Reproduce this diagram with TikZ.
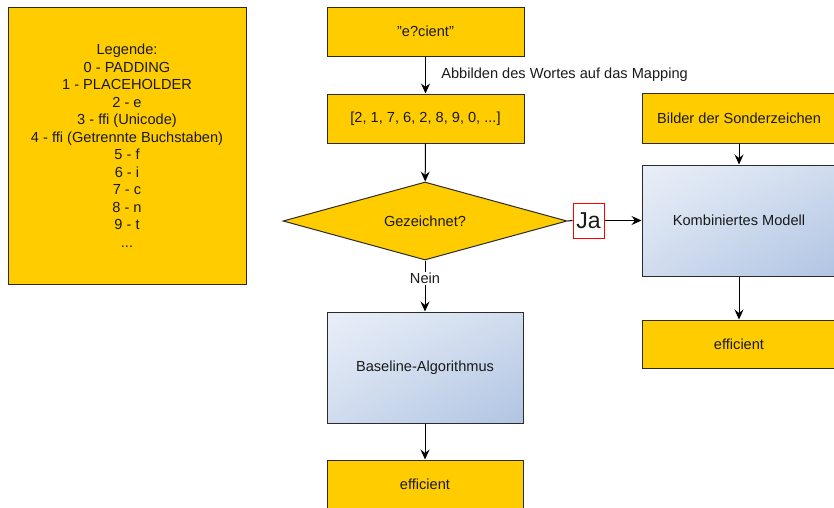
\documentclass[tikz,border=0pt]{standalone}
\usepackage{fontspec}
\setmainfont{Liberation Sans}
\usetikzlibrary{shapes.geometric,arrows.meta,shadings}
\definecolor{yel}{HTML}{FFCC00}
\definecolor{bord}{HTML}{2B2B2B}
\definecolor{txt}{HTML}{1A1A1A}
\definecolor{gtl}{HTML}{E9EFF8}
\definecolor{gmid}{HTML}{D0DCEE}
\definecolor{gbr}{HTML}{B0C4E3}
\begin{document}
\begin{tikzpicture}[x=1pt,y=-1pt,
  every node/.style={font=\fontsize{14.6}{17.5}\selectfont, text=txt},
  ybox/.style={draw=bord, line width=1pt, fill=yel, inner sep=0pt},
  gbox/.style={draw=bord, line width=1pt, inner sep=0pt, upper left=gtl, upper right=gmid, lower left=gmid, lower right=gbr},
  conn/.style={draw=black, line width=1pt, -{Stealth[length=10pt,width=9pt,inset=3.5pt]}},
  plain/.style={draw=black, line width=1pt}]
\useasboundingbox (0,0) rectangle (834,507);
\node[ybox, minimum width=238pt, minimum height=277pt, align=center] (leg) at (127,145.5)
  {Legende:\\0 - PADDING\\1 - PLACEHOLDER\\2 - e\\3 - ffi (Unicode)\\4 - ffi (Getrennte Buchstaben)\\5 - f\\6 - i\\7 - c\\8 - n\\9 - t\\...};
\node[ybox, minimum width=197pt, minimum height=49pt] (w) at (425.5,31.5) {\symbol{34}e?cient\symbol{34}};
\node[ybox, minimum width=197pt, minimum height=49pt] (m) at (425.5,118.5) {[2, 1, 7, 6, 2, 8, 9, 0, ...]};
\node[ybox, shape=diamond, aspect=3.64, minimum width=284pt, minimum height=78pt] (d) at (425,221) {Gezeichnet?};
\node[draw=red, fill=white, line width=1pt, inner sep=0pt, minimum width=31pt, minimum height=35pt, font=\fontsize{23}{26}\selectfont] (ja) at (588.5,220.5) {Ja};
\node[ybox, minimum width=194pt, minimum height=50pt] (bs) at (739,118) {Bilder der Sonderzeichen};
\node[gbox, minimum width=194pt, minimum height=111pt] (km) at (739,220.5) {Kombiniertes Modell};
\node[ybox, minimum width=194pt, minimum height=48pt] (e1) at (739,344) {efficient};
\node[gbox, minimum width=196pt, minimum height=111pt] (bl) at (425,367.5) {Baseline-Algorithmus};
\node[ybox, minimum width=196pt, minimum height=49pt] (e2) at (425,484.5) {efficient};
\draw[conn] (w) -- node[right=12pt, anchor=west] {Abbilden des Wortes auf das Mapping} (m);
\draw[conn] (m) -- (d);
\draw[conn] (d.south) -- node[fill=white, inner sep=1pt, pos=0.35] {Nein} (bl.north);
\draw[conn] (bl) -- (e2);
\draw[plain] (d.east) -- (ja.west);
\draw[conn] (ja.east) -- (km.west);
\draw[conn] (bs) -- (km);
\draw[conn] (km) -- (e1);
\end{tikzpicture}
\end{document}
